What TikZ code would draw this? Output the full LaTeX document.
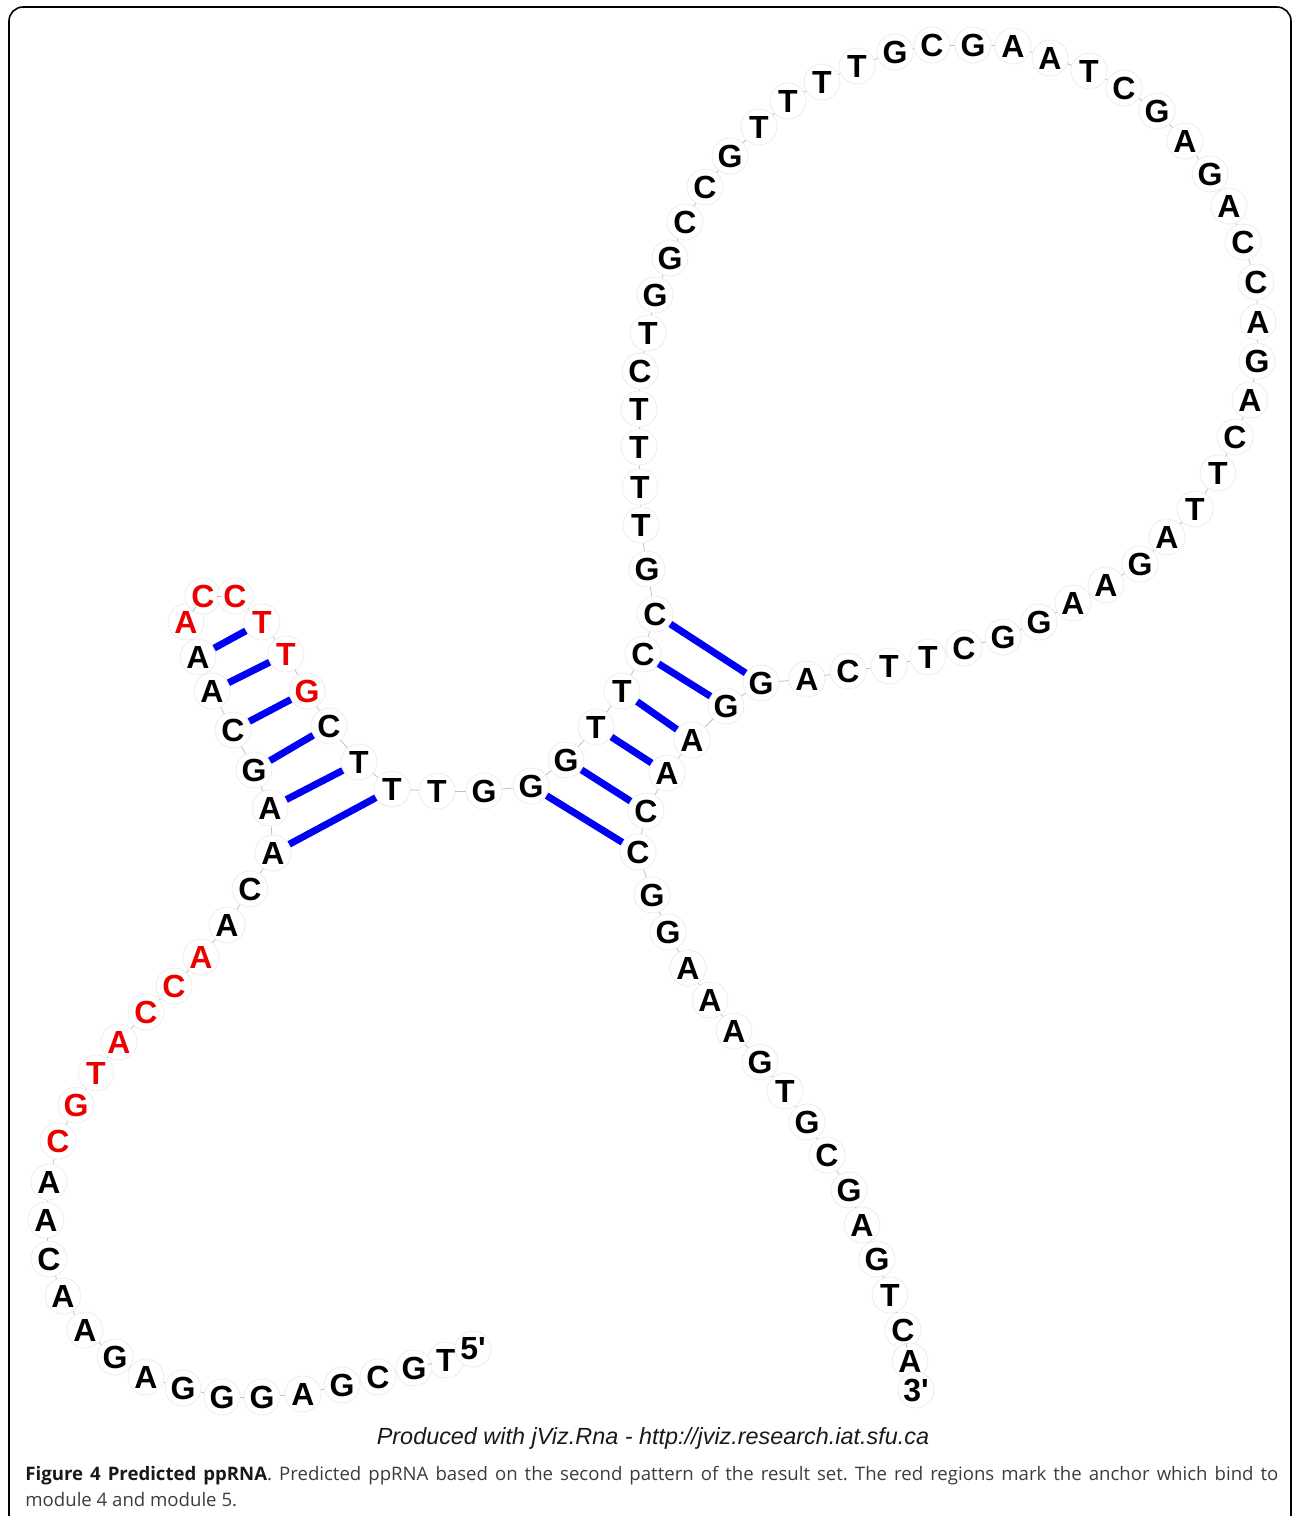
\documentclass[tikz,border=0pt]{standalone}
\usepackage{fontspec}
\setmainfont{Liberation Sans}
\newfontfamily\capfont{Open Sans}
\newfontfamily\plainsans[Ligatures=NoCommon]{Liberation Sans}
\definecolor{nred}{RGB}{235,0,0}
\definecolor{nblue}{RGB}{0,0,245}
\definecolor{capgray}{RGB}{60,60,60}
\frenchspacing
\begin{document}
\begin{tikzpicture}[x=0.5pt,y=-0.5pt,
  nt/.style={circle, fill=white, draw=black!7, line width=0.4pt, minimum size=18pt, inner sep=0pt,
             font=\fontsize{16}{16}\selectfont\bfseries},
  bb/.style={draw=black!25, line width=0.4pt},
  pairline/.style={draw=nblue, line width=3.5pt},
  frame/.style={draw=black, line width=0.8pt, rounded corners=7pt}
]
\useasboundingbox (0,0) rectangle (1293,1516);
\draw[frame] (9,1516) -- (9,7) -- (1291,7) -- (1291,1516);

\foreach \i/\x/\y/\l/\c in {
1/446/1360/T/black, 2/414/1368/G/black, 3/378/1377/C/black, 4/342/1385/G/black,
5/303/1394/A/black, 6/262/1397/G/black, 7/222/1397/G/black, 8/183/1388/G/black,
9/146/1377/A/black, 10/115/1357/G/black, 11/85/1330/A/black, 12/63/1296/A/black,
13/49/1259/C/black, 14/46/1220/A/black, 15/49/1182/A/black, 16/58/1141/C/nred,
17/76/1105/G/nred, 18/96/1073/T/nred, 19/119/1042/A/nred, 20/146/1012/C/nred,
21/174/986/C/nred, 22/201/957/A/nred, 23/227/925/A/black, 24/250/889/C/black,
25/273/853/A/black, 26/270/808/A/black, 27/254/770/G/black, 28/233/730/C/black,
29/212/691/A/black, 30/198/657/A/black, 31/186/622/A/nred, 32/203/596/C/nred,
33/235/596/C/nred, 34/262/622/T/nred, 35/286/654/T/nred, 36/307/691/G/nred,
37/329/726/C/black, 38/359/762/T/black, 39/392/789/T/black, 40/437/791/T/black,
41/484/791/G/black, 42/531/786/G/black, 43/566/760/G/black, 44/596/727/T/black,
45/622/691/T/black, 46/643/654/C/black, 47/655/614/C/black, 48/647/569/G/black,
49/641/525/T/black, 50/640/487/T/black, 51/639/447/T/black, 52/639/409/T/black,
53/640/371/C/black, 54/648/333/T/black, 55/655/295/G/black, 56/670/258/G/black,
57/685/222/C/black, 58/705/187/C/black, 59/730/156/G/black, 60/759/127/T/black,
61/788/101/T/black, 62/822/82/T/black, 63/857/66/T/black, 64/895/52/G/black,
65/932/45/C/black, 66/973/45/G/black, 67/1013/46/A/black, 68/1050/58/A/black,
69/1089/71/T/black, 70/1124/88/C/black, 71/1157/111/G/black, 72/1185/141/A/black,
73/1210/174/G/black, 74/1229/206/A/black, 75/1243/242/C/black, 76/1256/282/C/black,
77/1258/322/A/black, 78/1257/361/G/black, 79/1250/400/A/black, 80/1235/437/C/black,
81/1218/473/T/black, 82/1195/509/T/black, 83/1167/537/A/black, 84/1140/564/G/black,
85/1106/585/A/black, 86/1073/603/A/black, 87/1039/622/G/black, 88/1003/637/G/black,
89/964/648/C/black, 90/928/657/T/black, 91/889/666/T/black, 92/848/671/C/black,
93/807/679/A/black, 94/761/683/G/black, 95/726/706/G/black, 96/692/740/A/black,
97/667/773/A/black, 98/646/811/C/black, 99/638/852/C/black, 100/652/895/G/black,
101/668/932/G/black, 102/688/968/A/black, 103/710/1000/A/black, 104/734/1031/A/black,
105/760/1062/G/black, 106/785/1091/T/black, 107/807/1122/G/black, 108/827/1155/C/black,
109/849/1190/G/black, 110/862/1225/A/black, 111/877/1259/G/black, 112/890/1295/T/black,
113/903/1330/C/black, 114/910/1361/A/black}
  \node[nt, text=\c] (n\i) at (\x,\y) {\l};

\node[nt] (p5) at (473,1349) {\plainsans\bfseries 5'};
\node[nt] (p3) at (916,1390) {\plainsans\bfseries 3'};

\foreach \i [evaluate=\i as \j using int(\i+1)] in {1,...,113}
  \draw[bb] (n\i) -- (n\j);

\foreach \a/\b in {25/39,26/38,27/37,28/36,29/35,30/34,42/99,43/98,44/97,45/96,46/95,47/94}
  \draw[pairline] (n\a) -- (n\b);

\node[font=\fontsize{11.7}{13}\selectfont\itshape, text=black!90, anchor=base] (credit) at (653,1444)
  {Produced with jViz.Rna - http://jviz.research.iat.sfu.ca};

\node[anchor=base west, inner sep=0pt, font=\capfont\fontsize{9.3}{11}\selectfont, text=capgray] (cap1) at (25,1480)
  {\makebox[626.5pt][s]{\textbf{\color{black!90}Figure 4 Predicted ppRNA}. Predicted ppRNA based on the second pattern of the result set. The red regions mark the anchor which bind to}};
\node[anchor=base west, inner sep=0pt, font=\capfont\fontsize{9.3}{11}\selectfont, text=capgray] (cap2) at (25,1506)
  {module 4 and module 5.};
\end{tikzpicture}
\end{document}
